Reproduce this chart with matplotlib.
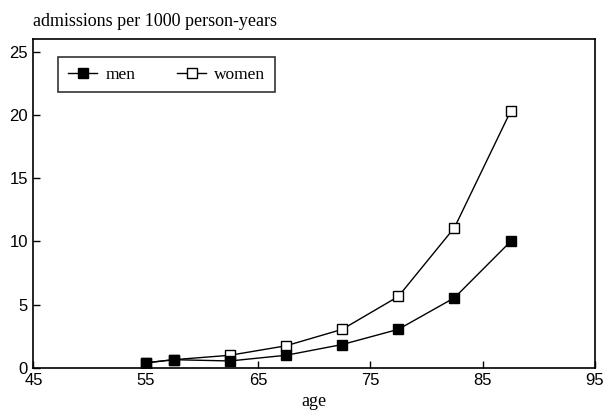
import matplotlib
matplotlib.use("Agg")
import matplotlib.pyplot as plt

# age group midpoints and admission rates per 1000 person-years
age = [55, 57.5, 62.5, 67.5, 72.5, 77.5, 82.5, 87.5]
men = [0.4, 0.65, 0.55, 1.0, 1.85, 3.05, 5.55, 10.0]
women = [0.4, 0.65, 1.0, 1.75, 3.05, 5.65, 11.1, 20.3]

xticks = [45, 55, 65, 75, 85, 95]
yticks = [0, 5, 10, 15, 20, 25]

serif = ['Liberation Serif', 'DejaVu Serif']
sans = ['Liberation Sans', 'DejaVu Sans']

fig = plt.figure(figsize=(6.07, 4.12), dpi=100)
ax = fig.add_axes([0.055, 0.107, 0.925, 0.798])

ax.plot(age, women, color='black', lw=1, marker='s', ms=6.5,
        mfc='white', mec='black', mew=1, label='women', zorder=2)
ax.plot(age, men, color='black', lw=1, marker='s', ms=6.5,
        mfc='black', mec='black', label='men', zorder=3)

ax.set_xlim(45, 95)
ax.set_ylim(0, 26)
ax.set_xticks(xticks)
ax.set_yticks(yticks)
ax.tick_params(direction='in', length=5, width=1, labelsize=12, pad=4)
for lab in ax.get_xticklabels() + ax.get_yticklabels():
    lab.set_family(sans)
for s in ax.spines.values():
    s.set_linewidth(1.2)

ax.set_xlabel('age', family=serif, fontsize=13, labelpad=3)
fig.text(0.055, 0.948, 'admissions per 1000 person-years', family=serif,
         fontsize=13, ha='left', va='center')

handles, labels = ax.get_legend_handles_labels()
leg = ax.legend(handles[::-1], labels[::-1], loc='upper left',
                bbox_to_anchor=(0.0445, 0.945), borderaxespad=0, ncol=2,
                frameon=True, fancybox=False, edgecolor='black', numpoints=1,
                handlelength=1.7, handletextpad=0.45, columnspacing=2.4,
                borderpad=0.55, prop={'family': serif, 'size': 12.5})
leg.get_frame().set_linewidth(1.2)

fig.savefig('out.png', dpi=100)
